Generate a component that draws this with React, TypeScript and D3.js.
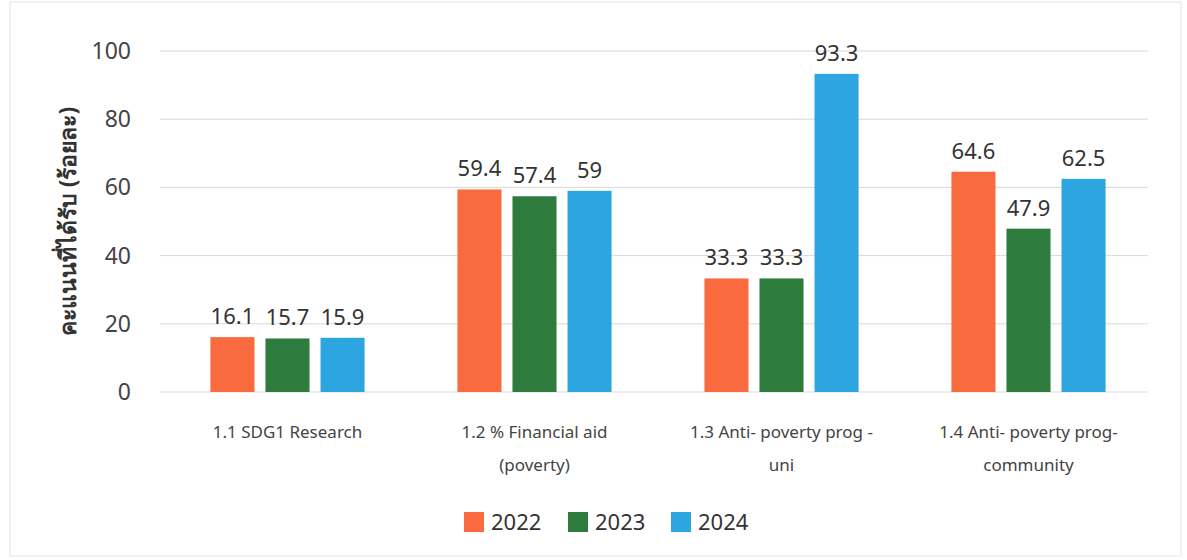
import * as d3 from "d3";
import { useEffect, useRef } from "react";

const categories = [
  ["1.1 SDG1 Research"],
  ["1.2 % Financial aid", "(poverty)"],
  ["1.3 Anti- poverty prog -", "uni"],
  ["1.4 Anti- poverty prog-", "community"],
];
const years = ["2022", "2023", "2024"];
const values2022 = [16.1, 59.4, 33.3, 64.6];
const values2023 = [15.7, 57.4, 33.3, 47.9];
const values2024 = [15.9, 59, 93.3, 62.5];
const yTicks = [0, 20, 40, 60, 80, 100];

const colors = ["#FA6A3F", "#2E7B3E", "#2CA5E0"];
const width = 1187;
const height = 560;
const font = "'Noto Sans', 'Open Sans', sans-serif";

export default function App() {
  const svgRef = useRef<SVGSVGElement>(null);

  useEffect(() => {
    if (!svgRef.current) return;
    const svg = d3.select(svgRef.current);
    svg.selectAll("*").remove();

    const series = [values2022, values2023, values2024];
    const idx = d3.range(categories.length);

    const x = d3.scaleBand<number>().domain(idx).range([164, 1152]).paddingInner(0.376).paddingOuter(0.188);
    const xInner = d3.scaleBand<number>().domain([0, 1, 2]).range([0, x.bandwidth()]).paddingInner(0.2);
    const y = d3.scaleLinear().domain([0, 100]).range([392, 51]);

    // light frame of the scanned chart
    svg.append("rect")
      .attr("x", 10).attr("y", 2).attr("width", width - 16).attr("height", height - 6)
      .attr("fill", "none").attr("stroke", "#e4e4e4");

    // gridlines
    svg.append("g")
      .selectAll("line")
      .data(yTicks)
      .join("line")
      .attr("x1", 160).attr("x2", 1148)
      .attr("y1", (d) => y(d)).attr("y2", (d) => y(d))
      .attr("stroke", "#d9d9d9").attr("stroke-width", 1);

    // y tick labels
    svg.append("g")
      .selectAll("text")
      .data(yTicks)
      .join("text")
      .attr("x", 131).attr("y", (d) => y(d))
      .attr("dy", "0.35em")
      .attr("text-anchor", "end")
      .attr("font-family", font).attr("font-size", 23)
      .attr("fill", "#444")
      .text((d) => d);

    svg.append("text")
      .attr("transform", `translate(76, ${y(50)}) rotate(-90)`)
      .attr("text-anchor", "middle")
      .attr("font-family", font).attr("font-size", 23).attr("font-weight", "bold")
      .attr("fill", "#333")
      .text("คะแนนที่ได้รับ (ร้อยละ)");

    const groups = svg.append("g")
      .selectAll("g")
      .data(idx)
      .join("g")
      .attr("transform", (i) => `translate(${x(i)}, 0)`);

    groups.selectAll("rect")
      .data((i) => series.map((s, k) => ({ k, v: s[i] })))
      .join("rect")
      .attr("x", (d) => xInner(d.k)!)
      .attr("width", xInner.bandwidth())
      .attr("y", (d) => y(d.v))
      .attr("height", (d) => y(0) - y(d.v))
      .attr("fill", (d) => colors[d.k]);

    groups.selectAll("text.val")
      .data((i) => series.map((s, k) => ({ k, v: s[i] })))
      .join("text")
      .attr("class", "val")
      .attr("x", (d) => xInner(d.k)! + xInner.bandwidth() / 2)
      .attr("y", (d) => y(d.v) - 13)
      .attr("text-anchor", "middle")
      .attr("font-family", font).attr("font-size", 22)
      .attr("fill", "#333")
      .text((d) => d.v);

    // category labels
    groups.append("text")
      .attr("text-anchor", "middle")
      .attr("font-family", font).attr("font-size", 17)
      .attr("fill", "#444")
      .selectAll("tspan")
      .data((i) => categories[i])
      .join("tspan")
      .attr("x", x.bandwidth() / 2)
      .attr("y", (_, j) => 438 + j * 33)
      .text((d) => d);

    // legend
    const legendX = [464, 568, 671];
    const legend = svg.append("g")
      .selectAll("g")
      .data(years)
      .join("g")
      .attr("transform", (_, i) => `translate(${legendX[i]}, 512)`);
    legend.append("rect")
      .attr("width", 20).attr("height", 20)
      .attr("fill", (_, i) => colors[i]);
    legend.append("text")
      .attr("x", 27).attr("y", 10).attr("dy", "0.38em")
      .attr("font-family", font).attr("font-size", 22)
      .attr("fill", "#333")
      .text((d) => d);
  }, []);

  return (
    <svg
      ref={svgRef}
      width={width}
      height={height}
      style={{ position: "absolute", left: 0, top: 0, background: "#fff" }}
    ></svg>
  );
}
